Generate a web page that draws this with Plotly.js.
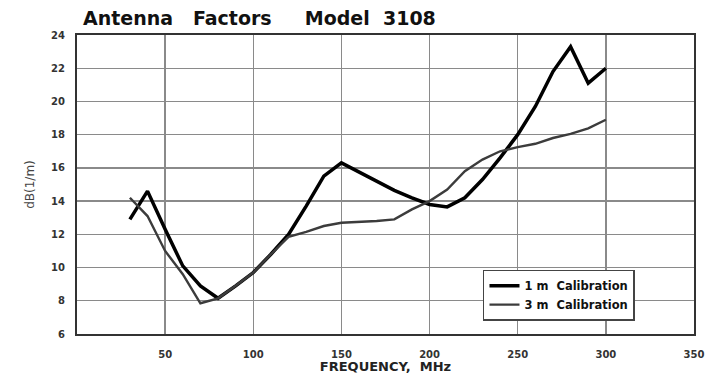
<!DOCTYPE html>
<html>
<head>
<meta charset="utf-8">
<script src="https://cdn.plot.ly/plotly-3.0.1.min.js"></script>
<style>
  html, body { margin: 0; padding: 0; background: #fff; }
  #chart { width: 707px; height: 374px; }
</style>
</head>
<body>
<div id="chart"></div>
<script>
// Frequency (MHz)
const freqMHz = [30, 40, 50, 60, 70, 80, 90, 100, 110, 120, 130, 140, 150, 160,
                 170, 180, 190, 200, 210, 220, 230, 240, 250, 260, 270, 280, 290, 300];
// Antenna factor dB(1/m), 1 m calibration
const af1m = [12.9, 14.6, 12.3, 10.1, 8.9, 8.15, 8.9, 9.7, 10.8, 12.0, 13.7, 15.5, 16.3, 15.75,
              15.2, 14.65, 14.2, 13.8, 13.65, 14.2, 15.3, 16.6, 18.0, 19.7, 21.8, 23.3, 21.1, 22.0];
// Antenna factor dB(1/m), 3 m calibration
const af3m = [14.2, 13.1, 11.0, 9.6, 7.85, 8.15, 8.9, 9.7, 10.8, 11.85, 12.15, 12.5, 12.7, 12.75,
              12.8, 12.9, 13.5, 14.0, 14.7, 15.8, 16.5, 17.0, 17.25, 17.45, 17.8, 18.05, 18.38, 18.9];
const xTickVals = [50, 100, 150, 200, 250, 300, 350];
const yTickVals = [6, 8, 10, 12, 14, 16, 18, 20, 22, 24];
const seriesNames = ["1 m  Calibration", "3 m  Calibration"];
const titleText = "Antenna\u00A0\u00A0 Factors\u00A0\u00A0\u00A0\u00A0 Model\u00A0 3108";

const FONT = "DejaVu Sans, Liberation Sans, Arial, sans-serif";

const traces = [
  { x: freqMHz, y: af1m, name: seriesNames[0], type: "scatter", mode: "lines",
    line: { color: "#000000", width: 3.5 } },
  { x: freqMHz, y: af3m, name: seriesNames[1], type: "scatter", mode: "lines",
    line: { color: "#3c3c3c", width: 2.4 } }
];

const layout = {
  width: 707, height: 374,
  margin: { l: 77, r: 13, t: 35, b: 40 },
  paper_bgcolor: "#ffffff", plot_bgcolor: "#ffffff",
  font: { family: FONT, color: "#222" },
  title: {
    text: "<b>" + titleText + "</b>",
    font: { family: FONT, size: 19, color: "#111" },
    xref: "container", yref: "container",
    x: 83 / 707, xanchor: "left",
    y: 1 - 18 / 374, yanchor: "middle"
  },
  showlegend: true,
  legend: {
    x: 0.658, xanchor: "left", y: 0.13, yanchor: "middle",
    bgcolor: "#ffffff", bordercolor: "#444", borderwidth: 1.5,
    font: { family: FONT, size: 11.5, color: "#111", weight: "bold" },
    tracegroupgap: 0
  },
  xaxis: {
    range: [0, 350], tickvals: xTickVals, ticktext: xTickVals.map(String),
    showgrid: true, gridcolor: "#8a8a8a", gridwidth: 1.3,
    zeroline: false, showline: true, linecolor: "#333", linewidth: 2, mirror: true,
    ticks: "", ticklabelstandoff: 10,
    tickfont: { family: FONT, size: 10, color: "#333", weight: "bold" },
    title: { text: "<b>FREQUENCY,  MHz</b>", font: { family: FONT, size: 13, color: "#222" }, standoff: 6 }
  },
  yaxis: {
    range: [6, 24], tickvals: yTickVals, ticktext: yTickVals.map(String),
    showgrid: true, gridcolor: "#8a8a8a", gridwidth: 1.3,
    zeroline: false, showline: true, linecolor: "#333", linewidth: 2, mirror: true,
    ticks: "", ticklabelstandoff: 8,
    tickfont: { family: FONT, size: 10, color: "#333", weight: "bold" },
    title: { text: "dB(1/m)", font: { family: FONT, size: 12, color: "#444" }, standoff: 14 }
  }
};

Plotly.newPlot("chart", traces, layout, { displayModeBar: false, staticPlot: true });
</script>
</body>
</html>
